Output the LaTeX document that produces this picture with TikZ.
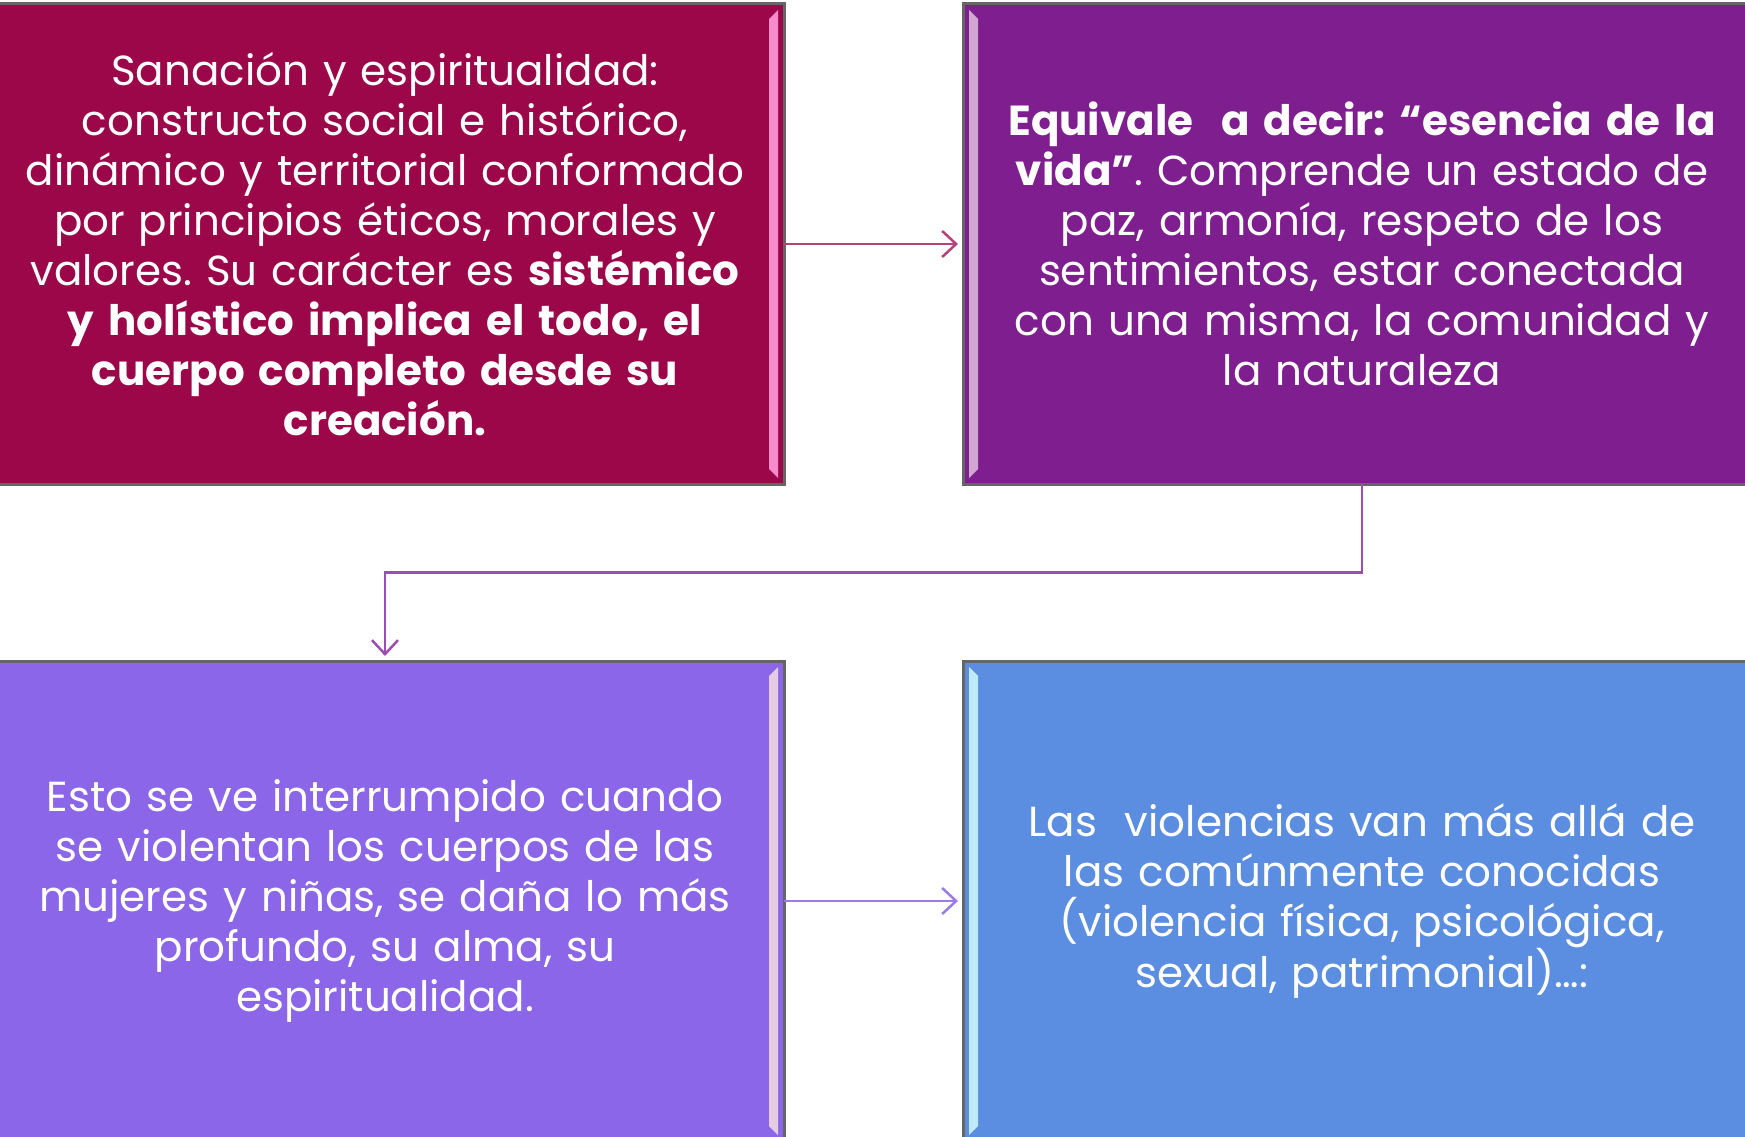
\documentclass[tikz,border=0pt]{standalone}
\usepackage{fontspec}
\setmainfont{Poppins}
\usetikzlibrary{positioning}
\usetikzlibrary{arrows.meta,calc}
\frenchspacing

\definecolor{crimsonbox}{HTML}{9C0749}
\definecolor{plumbox}{HTML}{7F1F8F}
\definecolor{violetbox}{HTML}{8B66E8}
\definecolor{bluebox}{HTML}{5B8EE0}

\begin{document}
\begin{tikzpicture}[x=1pt,y=1pt,
                    node distance=177pt and 179pt,
                    every node/.style={draw=black!60,
                      line width=3pt,
                      rectangle,
                      outer sep=0pt,
                      minimum width=798pt,
                      minimum height=480pt,
                      text width=780pt,
                      text=white,
                      align=center,
                      font=\fontsize{42}{50}\selectfont},
                    link/.style={line width=2.5pt,
                      -{Straight Barb[length=14pt,width=26pt]},
                      shorten >=5pt}]
\useasboundingbox (0,0) rectangle (1745,-1137);
\node (a) [fill=crimsonbox] at (385,-244) {Sanación y espiritualidad:\\
  constructo social e histórico,\\
  dinámico y territorial conformado\\
  por principios éticos, morales y\\
  valores. Su carácter es \textbf{sistémico}\\
  \textbf{y holístico implica el todo, el}\\
  \textbf{cuerpo completo desde su}\\
  \textbf{creación.}};
\node (b) [fill=plumbox, right=of a] {\textbf{Equivale\ \ a decir: “esencia de la}\\
  \textbf{vida”}. Comprende un estado de\\
  paz, armonía, respeto de los\\
  sentimientos, estar conectada\\
  con una misma, la comunidad y\\
  la naturaleza};
\node (c) [fill=violetbox, below=of a] {Esto se ve interrumpido cuando\\
  se violentan los cuerpos de las\\
  mujeres y niñas, se daña lo más\\
  profundo, su alma, su\\
  espiritualidad.};
\node (d) [fill=bluebox, right=of c] {Las\ \ violencias van más allá de\\
  las comúnmente conocidas\\
  (violencia física, psicológica,\\
  sexual, patrimonial)…:};
% bevel stripes
\fill[magenta!45!white] ($(a.north east)+(-15,-15)$) -- ($(a.north east)+(-6,-6)$) -- ($(a.south east)+(-6,6)$) -- ($(a.south east)+(-15,15)$) -- cycle;
\fill[violet!35!white] ($(b.north west)+(15,-15)$) -- ($(b.north west)+(6,-6)$) -- ($(b.south west)+(6,6)$) -- ($(b.south west)+(15,15)$) -- cycle;
\fill[violet!20!white] ($(c.north east)+(-15,-15)$) -- ($(c.north east)+(-6,-6)$) -- ($(c.south east)+(-6,6)$) -- ($(c.south east)+(-15,15)$) -- cycle;
\fill[cyan!25!white] ($(d.north west)+(15,-15)$) -- ($(d.north west)+(6,-6)$) -- ($(d.south west)+(6,6)$) -- ($(d.south west)+(15,15)$) -- cycle;
\coordinate (m) at ($(a.south)!0.5!(c.north)$);
\draw[link, draw={rgb,255:red,181;green,64;blue,122}] (a) -- (b);
\draw[link, draw={rgb,255:red,155;green,77;blue,176}] (b.south) |- (m) -- (c.north);
\draw[link, draw={rgb,255:red,155;green,123;blue,232}] (c) -- (d);
\end{tikzpicture}
\end{document}
